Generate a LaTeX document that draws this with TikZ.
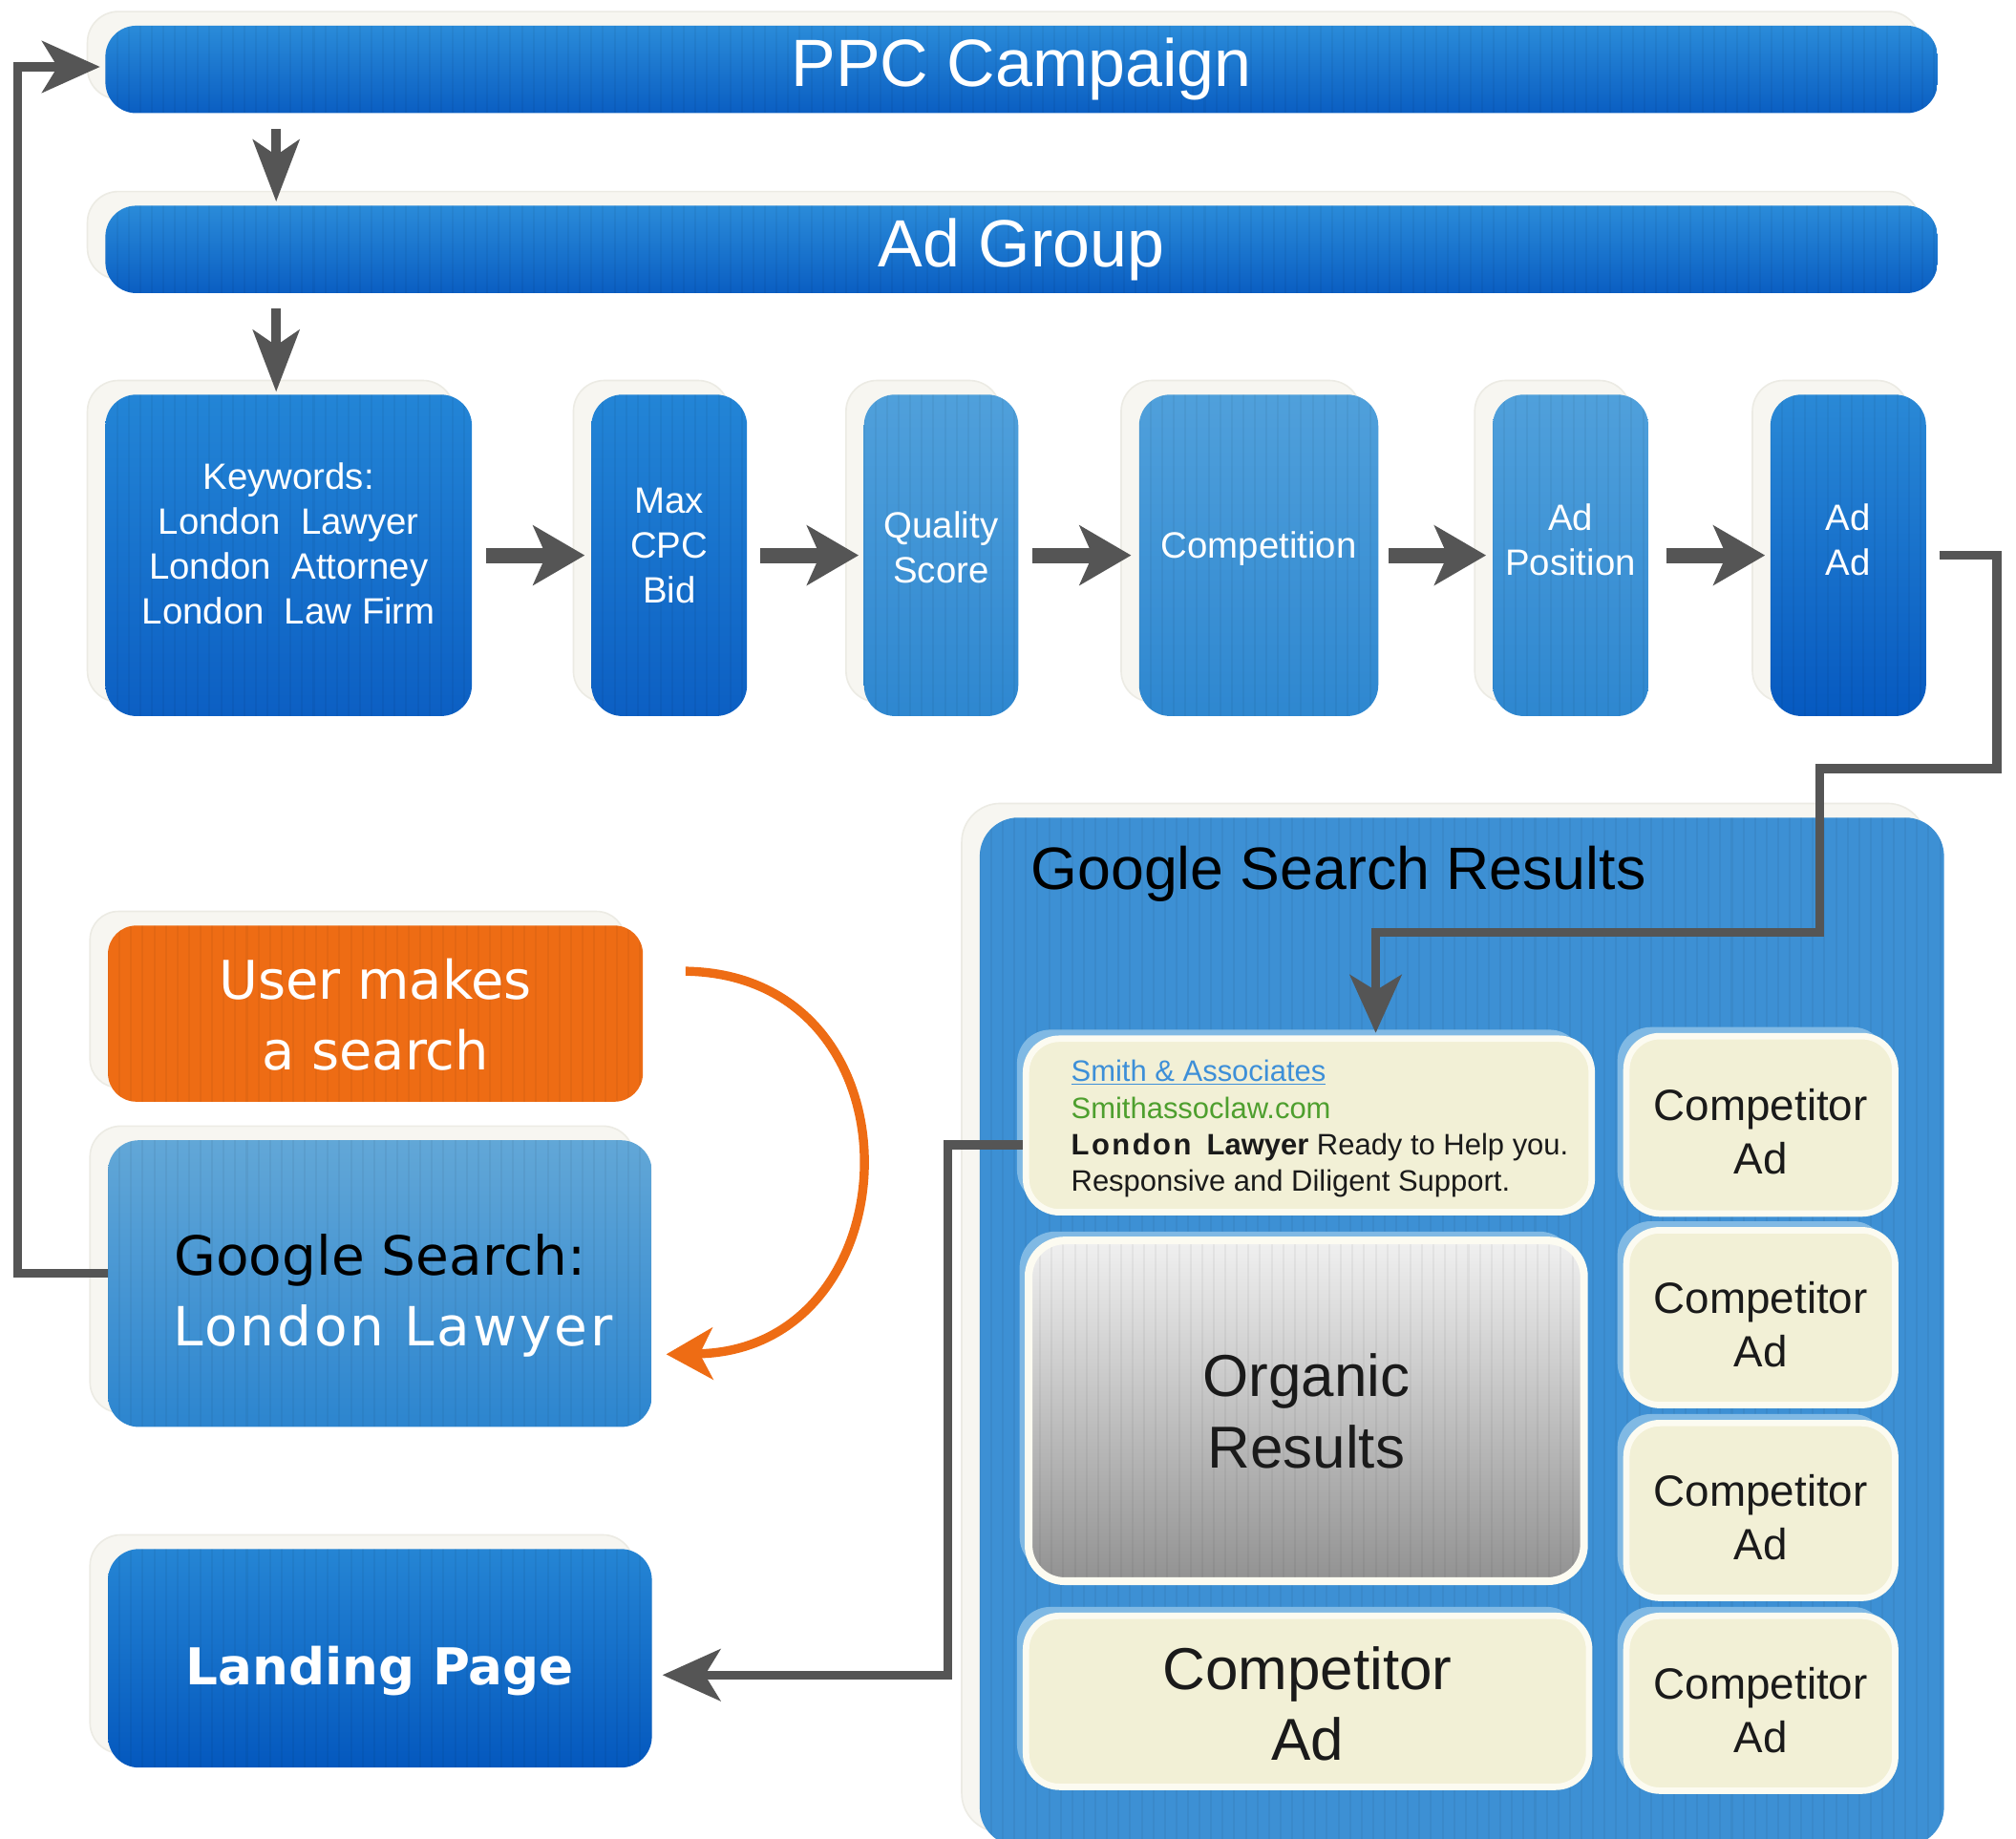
\documentclass[tikz,border=0pt]{standalone}
\usepackage{fontspec}
\setmainfont{Liberation Sans}
\newfontfamily\dvfont{DejaVu Sans}
\usetikzlibrary{arrows.meta,calc,shadows}

\definecolor{arrgray}{HTML}{555555}
\definecolor{halofill}{HTML}{F7F6F1}
\definecolor{haloline}{HTML}{ECEBE4}
\definecolor{barT}{HTML}{2A8BD9}
\definecolor{barB}{HTML}{0A5EC2}
\definecolor{kwT}{HTML}{2385D6}
\definecolor{kwB}{HTML}{0C5FC3}
\definecolor{ltT}{HTML}{50A0DB}
\definecolor{ltB}{HTML}{2E87D0}
\definecolor{adT}{HTML}{2A89D6}
\definecolor{adB}{HTML}{0659C0}
\definecolor{gsrblue}{HTML}{3D90D4}
\definecolor{innerhalo}{HTML}{80B9E4}
\definecolor{cream}{HTML}{F2F0D6}
\definecolor{creamline}{HTML}{FCFBF1}
\definecolor{orgT}{HTML}{F0F0F0}
\definecolor{orgB}{HTML}{929292}
\definecolor{orng}{HTML}{EE6C14}
\definecolor{gsT}{HTML}{62A7D7}
\definecolor{gsB}{HTML}{2C85CF}
\definecolor{lpT}{HTML}{2585D4}
\definecolor{lpB}{HTML}{0458BE}
\definecolor{linkblue}{HTML}{3D8FD8}
\definecolor{urlgreen}{HTML}{4E9F2E}
\definecolor{textdark}{HTML}{1A1A1A}

% shift contents vertically while keeping the box dimensions
\newcommand\liftbox[2][0pt]{\raisebox{#1}[\height][\depth]{\begin{tabular}{@{}c@{}}#2\end{tabular}}}

\begin{document}
\begin{tikzpicture}[x=1pt,y=-1pt,
  stripes/.style={path picture={\foreach \i in {0,9,...,1440} \draw[black,opacity=0.045,line width=1.5pt] ([xshift=\i pt]path picture bounding box.south west) -- ([xshift=\i pt]path picture bounding box.north west);}},
  halo/.style={general shadow={fill=halofill,draw=haloline,line width=1.2pt,shadow xshift=-14pt,shadow yshift=11pt}},
  bar/.style={halo,stripes,rounded corners=24pt,top color=barT,bottom color=barB,minimum width=1425pt,minimum height=68pt,inner sep=0pt,text=white,font=\fontsize{52}{60}\selectfont},
  flow/.style={halo,stripes,rounded corners=24pt,minimum height=250pt,inner sep=0pt,text=white,font=\fontsize{28.5}{35}\selectfont},
  cbox/.style={general shadow={fill=innerhalo,shadow xshift=-7pt,shadow yshift=7pt},rounded corners=26pt,fill=cream,draw=creamline,line width=5pt,inner sep=0pt,text=textdark},
  harr/.style={draw=arrgray,line width=12pt,-{Stealth[length=40pt,width=46pt,inset=10pt]}},
  darr/.style={draw=arrgray,line width=7pt,-{Stealth[length=48pt,width=36pt,inset=12pt]}},
  conn/.style={draw=arrgray,line width=7pt,line join=miter},
  connarr/.style={conn,-{Stealth[length=45pt,width=40pt,inset=12pt]}},
  oarr/.style={draw=orng,line width=7pt,-{Stealth[length=36pt,width=40pt,inset=10pt]}}
]
\useasboundingbox[fill=white] (0,0) rectangle (1568,1430);

% top bars
\node[bar] (ppc) at (794.5,54) {PPC Campaign};
\node[bar] (adg) at (794.5,194) {Ad Group};

% flow row
\node[flow,top color=kwT,bottom color=kwB,minimum width=285pt] (kw) at (224.5,432)
  {\liftbox[6pt]{Keywords:\\London\ \ Lawyer\\London\ \ Attorney\\London\ \ Law Firm}};
\node[flow,top color=kwT,bottom color=kwB,minimum width=121pt] (max) at (520.5,432)
  {\liftbox[5pt]{Max\\CPC\\Bid}};
\node[flow,top color=ltT,bottom color=ltB,minimum width=120pt] (qs) at (732,432)
  {\liftbox[3pt]{Quality\\Score}};
\node[flow,top color=ltT,bottom color=ltB,minimum width=186pt] (comp) at (979,432)
  {\liftbox[5pt]{Competition}};
\node[flow,top color=ltT,bottom color=ltB,minimum width=121pt] (adpos) at (1221.5,432)
  {\liftbox[9pt]{Ad\\Position}};
\node[flow,top color=adT,bottom color=adB,minimum width=121pt] (adad) at (1437.5,432)
  {\liftbox[9pt]{Ad\\Ad}};

% Google search results panel
\node[halo,stripes,rounded corners=30pt,fill=gsrblue,minimum width=750pt,minimum height=800pt,inner sep=0pt] (gsr) at (1137,1036) {};
\node[anchor=west,inner sep=0pt,text=black,font=\fontsize{46.5}{54}\selectfont] (gsrt) at ($(gsr.north west)+(40,44)$) {Google Search Results};

\node[cbox,minimum width=440pt,minimum height=135pt,font=\fontsize{23}{28.5}\selectfont] (smith) at (1018,875.5)
  {\hspace*{17pt}\raisebox{-3pt}[\height][\depth]{\begin{tabular}{@{}l@{}}
   {\color{linkblue}\underline{Smith \& Associates}}\\
   {\color{urlgreen}Smithassoclaw.com}\\
   {\bfseries\addfontfeature{LetterSpace=8}London}\hspace{12pt}{\bfseries Lawyer} Ready to Help you.\\
   Responsive and Diligent Support.
   \end{tabular}}};

\node[cbox,minimum width=209pt,minimum height=138pt,font=\fontsize{34}{42}\selectfont] (c1) at (1369.5,875) {\liftbox[-9pt]{Competitor\\Ad}};
\node[cbox,minimum width=209pt,minimum height=136pt,font=\fontsize{34}{42}\selectfont] (c2) at (1369.5,1025) {\liftbox[-9pt]{Competitor\\Ad}};
\node[cbox,minimum width=209pt,minimum height=136pt,font=\fontsize{34}{42}\selectfont] (c3) at (1369.5,1175) {\liftbox[-9pt]{Competitor\\Ad}};
\node[cbox,minimum width=209pt,minimum height=136pt,font=\fontsize{34}{42}\selectfont] (c4) at (1369.5,1325) {\liftbox[-9pt]{Competitor\\Ad}};

\node[general shadow={fill=innerhalo,shadow xshift=-7pt,shadow yshift=7pt},stripes,rounded corners=28pt,top color=orgT,bottom color=orgB,draw=creamline,line width=6pt,minimum width=432pt,minimum height=265pt,inner sep=0pt,align=center,text=textdark,font=\fontsize{46}{56}\selectfont] (org) at (1016,1097.5) {Organic\\Results};

\node[cbox,minimum width=438pt,minimum height=133pt,font=\fontsize{46}{55}\selectfont] (cbig) at (1017,1323.5) {\liftbox[-7pt]{Competitor\\Ad}};

% left column
\node[halo,stripes,rounded corners=22pt,fill=orng,minimum width=416pt,minimum height=137pt,inner sep=0pt,text=white,font=\dvfont\fontsize{41.5}{55}\selectfont] (user) at (292,788.5) {\liftbox[-5pt]{User makes\\a search}};
\node[halo,stripes,rounded corners=24pt,top color=gsT,bottom color=gsB,minimum width=423pt,minimum height=223pt,inner sep=0pt,text=black,font=\dvfont\fontsize{42}{55}\selectfont] (gs) at (295.5,998.5)
  {\liftbox[-10pt]{Google Search:\\\hspace*{20pt}{\color{white}\addfontfeature{LetterSpace=5}London Lawyer}}};
\node[halo,stripes,rounded corners=24pt,top color=lpT,bottom color=lpB,minimum width=423pt,minimum height=170pt,inner sep=0pt,text=white,font=\dvfont\bfseries\fontsize{39.5}{47}\selectfont] (land) at (295.5,1290) {\liftbox[-11pt]{Landing Page}};

% connectors
\draw[darr] ($(ppc.south west)+(133,12)$) -- ($(adg.north west)+(133,-3)$);
\draw[darr] ($(adg.south west)+(133,12)$) -- ($(kw.north west)+(133,-2)$);

\draw[harr] ([xshift=11pt]kw.east) -- ([xshift=-5pt]max.west);
\draw[harr] ([xshift=10pt]max.east) -- ([xshift=-4pt]qs.west);
\draw[harr] ([xshift=11pt]qs.east) -- ([xshift=-6pt]comp.west);
\draw[harr] ([xshift=8pt]comp.east) -- ([xshift=-5pt]adpos.west);
\draw[harr] ([xshift=14pt]adpos.east) -- ([xshift=-4pt]adad.west);

\draw[connarr] ([xshift=10pt]adad.east) -- ++(45,0) -- ++(0,166) -- ++(-138,0)
  |- ($(smith.north)+(52,-80)$) -- ($(smith.north)+(52,-2)$);

\draw[connarr] ($(smith.west)+(0,15)$) -| ($(land.east)+(230,13)$) -- ($(land.east)+(8,13)$);

\draw[connarr] ($(gs.west)+(0,-8)$) -- ++(-70,0) |- ($(ppc.west)+(-4,-2)$);

\draw[oarr] ($(user.east)+(33,-33)$) .. controls ($(user.east)+(222,-30)$) and ($(gs.east)+(205,52)$) .. ($(gs.east)+(11,55)$);

\end{tikzpicture}
\end{document}
